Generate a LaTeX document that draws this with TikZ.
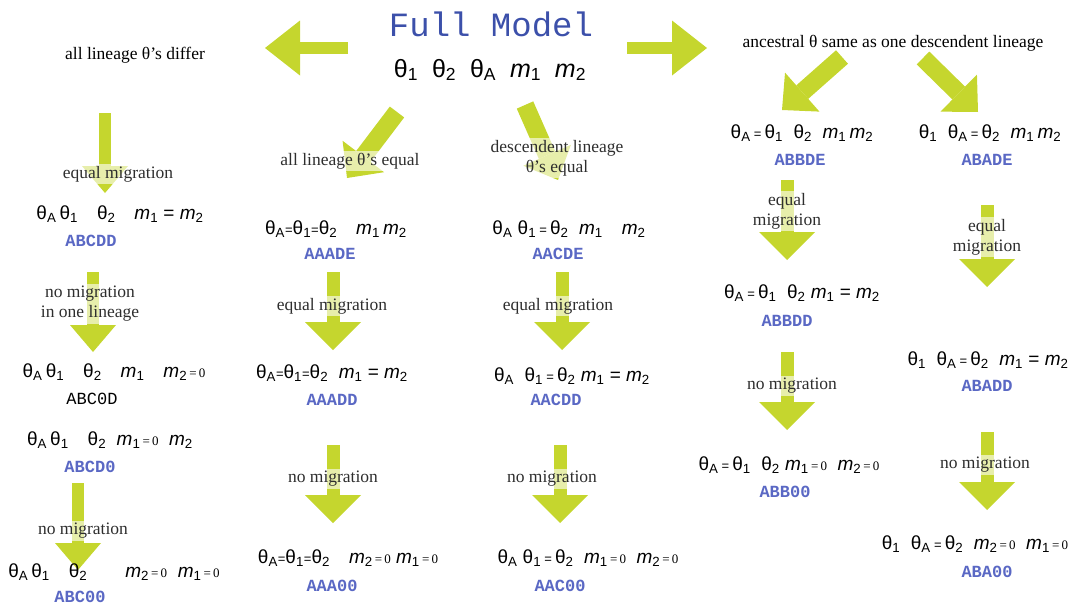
\documentclass[tikz,border=0pt]{standalone}
\usepackage{fontspec}
\setmainfont{Liberation Serif}
\setsansfont{Liberation Sans}
\setmonofont{Liberation Mono}
\usetikzlibrary{arrows.meta}
\usepackage{xcolor}
\definecolor{limeArrow}{HTML}{C5D62E}
\definecolor{codeBlue}{HTML}{5A68C4}
\definecolor{titleBlue}{HTML}{3C50AA}
\definecolor{labelGray}{HTML}{2E2E2E}

\newcommand{\thA}{θ\textsubscript{A}}
\newcommand{\thI}{θ\textsubscript{1}}
\newcommand{\thII}{θ\textsubscript{2}}
\newcommand{\mI}{\textit{m}\textsubscript{1}}
\newcommand{\mII}{\textit{m}\textsubscript{2}}
\newcommand{\se}{{\fontsize{13}{13}\selectfont=}}
\newcommand{\eqz}{{\rmfamily\fontsize{13}{13}\selectfont\,=\,0}}

\begin{document}
\begin{tikzpicture}[x=1pt,y=-1pt,
  formula/.style={font=\sffamily\fontsize{19}{22}\selectfont,inner sep=1pt},
  code/.style={font=\ttfamily\bfseries\fontsize{17}{18}\selectfont,text=codeBlue,inner sep=1pt},
  cond/.style={font=\fontsize{17.5}{20}\selectfont,text=labelGray,fill=white,fill opacity=0.6,text opacity=1,align=center,inner sep=2pt},
  topnote/.style={font=\fontsize{17.5}{19}\selectfont},
  fat/.style={limeArrow,line width=13pt,-{Triangle[width=56pt,length=28pt,line width=0pt]}},
  thin/.style={limeArrow,line width=12pt,-{Triangle[width=46pt,length=27pt,line width=0pt]}},
  side/.style={limeArrow,line width=12pt,-{Triangle[width=55pt,length=35pt,line width=0pt]}},
  slant/.style={limeArrow,line width=18pt,-{Triangle[width=52pt,length=27pt,line width=0pt]}}]
  \useasboundingbox (0,0) rectangle (1073,605);

  % title
  \node[font=\ttfamily\fontsize{34}{36}\selectfont,text=titleBlue] (title) at (491,24) {Full Model};
  \node[formula,font=\sffamily\fontsize{25}{28}\selectfont] (full) at (490,70) {\thI\ \ \thII\ \ \thA\ \ \mI\ \ \mII};
  \node[topnote] (differ) at (135,55) {all lineage θ’s differ};
  \node[topnote] (same) at (893,43) {ancestral θ same as one descendent lineage};

  \coordinate (ls) at (348,48); \coordinate (le) at (265,48);
  \coordinate (rs) at (627,48); \coordinate (re) at (707,48);
  \draw[side] (ls) -- (le);
  \draw[side] (rs) -- (re);

  % arrow end points
  \coordinate (a1s) at (105,113); \coordinate (a1e) at (105,193);
  \coordinate (a2s) at (93,272);  \coordinate (a2e) at (93,352);
  \coordinate (a3s) at (78,483);  \coordinate (a3e) at (78,570);
  \coordinate (b0s) at (397,112); \coordinate (b0e) at (347,178);
  \coordinate (b1s) at (333,272); \coordinate (b1e) at (333,350);
  \coordinate (b2s) at (333,445); \coordinate (b2e) at (333,523);
  \coordinate (c0s) at (525,105); \coordinate (c0e) at (558,180);
  \coordinate (c1s) at (562,272); \coordinate (c1e) at (562,350);
  \coordinate (c2s) at (560,445); \coordinate (c2e) at (560,523);
  \coordinate (d0s) at (842,57);  \coordinate (d0e) at (782,110);
  \coordinate (d1s) at (787,180); \coordinate (d1e) at (787,260);
  \coordinate (d2s) at (787,352); \coordinate (d2e) at (787,430);
  \coordinate (e0s) at (923,58);  \coordinate (e0e) at (978,112);
  \coordinate (e1s) at (987,205); \coordinate (e1e) at (987,287);
  \coordinate (e2s) at (987,432); \coordinate (e2e) at (987,510);

  \draw[thin] (a1s) -- (a1e);
  \draw[thin] (a2s) -- (a2e);
  \draw[thin] (a3s) -- (a3e);
  \draw[slant] (b0s) -- (b0e);
  \draw[fat] (b1s) -- (b1e);
  \draw[fat] (b2s) -- (b2e);
  \draw[slant] (c0s) -- (c0e);
  \draw[fat] (c1s) -- (c1e);
  \draw[fat] (c2s) -- (c2e);
  \draw[slant] (d0s) -- (d0e);
  \draw[fat] (d1s) -- (d1e);
  \draw[fat] (d2s) -- (d2e);
  \draw[slant] (e0s) -- (e0e);
  \draw[fat] (e1s) -- (e1e);
  \draw[fat] (e2s) -- (e2e);

  % conditions on the arrows
  \node[cond] (eqm1) at (118,174) {equal migration};
  \node[cond] (nom1) at (90,304) {no migration\\in one lineage};
  \node[cond] (nom2) at (83,531) {no migration};
  \node[cond] (alleq) at (350,161) {all lineage θ’s equal};
  \node[cond] (eqm2) at (332,306) {equal migration};
  \node[cond] (nom3) at (333,479) {no migration};
  \node[cond] (deseq) at (557,158) {descendent lineage\\θ’s equal};
  \node[cond] (eqm3) at (558,306) {equal migration};
  \node[cond] (nom4) at (552,479) {no migration};
  \node[cond] (eqm4) at (787,211) {equal\\migration};
  \node[cond] (nom5) at (792,386) {no migration};
  \node[cond] (eqm5) at (987,237) {equal\\migration};
  \node[cond] (nom6) at (985,465) {no migration};

  % models, all lineage theta's differ
  \node[formula] (abcdd) at (120,214) {\thA\,\thI\quad\thII\quad\mI\ = \mII};
  \node[code] (abcdd-id) at (91,241) {ABCDD};
  \node[formula] (abc0d) at (114,372) {\thA\,\thI\quad\thII\quad\mI\quad\mII\eqz};
  \node[code,font=\ttfamily\fontsize{17}{18}\selectfont,text=black] (abc0d-id) at (92,399) {ABC0D};
  \node[formula] (abcd0) at (110,440) {\thA\,\thI\quad\thII\ \ \mI\eqz\ \ \mII};
  \node[code] (abcd0-id) at (90,467) {ABCD0};
  \node[formula] (abc00) at (114,572) {\thA\,\thI\quad\thII\qquad\mII\eqz\ \ \mI\eqz};
  \node[code] (abc00-id) at (80,597) {ABC00};

  % all lineage theta's equal
  \node[formula] (aaade) at (336,229) {\thA\se\thI\se\thII\quad\mI\,\mII};
  \node[code] (aaade-id) at (330,254) {AAADE};
  \node[formula] (aaadd) at (332,373) {\thA\se\thI\se\thII\ \ \mI\ = \mII};
  \node[code] (aaadd-id) at (332,400) {AAADD};
  \node[formula] (aaa00) at (348,558) {\thA\se\thI\se\thII\quad\mII\eqz\ \mI\eqz};
  \node[code] (aaa00-id) at (332,586) {AAA00};

  % descendent lineage theta's equal
  \node[formula] (aacde) at (569,229) {\thA\ \thI\,\se\,\thII\ \ \mI\quad\mII};
  \node[code] (aacde-id) at (558,254) {AACDE};
  \node[formula] (aacdd) at (572,376) {\thA\ \ \thI\,\se\,\thII\ \mI\ = \mII};
  \node[code] (aacdd-id) at (556,400) {AACDD};
  \node[formula] (aac00) at (588,558) {\thA\ \thI\,\se\,\thII\ \ \mI\eqz\ \ \mII\eqz};
  \node[code] (aac00-id) at (560,586) {AAC00};

  % ancestral theta same as one descendent
  \node[formula] (abbde) at (802,133) {\thA\,\se\,\thI\ \ \thII\ \ \mI\,\mII};
  \node[code] (abbde-id) at (800,160) {ABBDE};
  \node[formula] (abbdd) at (802,293) {\thA\,\se\,\thI\ \ \thII\ \mI\ = \mII};
  \node[code] (abbdd-id) at (787,321) {ABBDD};
  \node[formula] (abb00) at (789,465) {\thA\,\se\,\thI\ \ \thII\ \mI\eqz\ \ \mII\eqz};
  \node[code] (abb00-id) at (785,492) {ABB00};

  \node[formula] (abade) at (990,133) {\thI\ \ \thA\,\se\,\thII\ \ \mI\,\mII};
  \node[code] (abade-id) at (987,160) {ABADE};
  \node[formula] (abadd) at (988,360) {\thI\ \ \thA\,\se\,\thII\ \ \mI\ = \mII};
  \node[code] (abadd-id) at (987,386) {ABADD};
  \node[formula] (aba00) at (975,544) {\thI\ \ \thA\,\se\,\thII\ \ \mII\eqz\ \ \mI\eqz};
  \node[code] (aba00-id) at (987,572) {ABA00};
\end{tikzpicture}
\end{document}
